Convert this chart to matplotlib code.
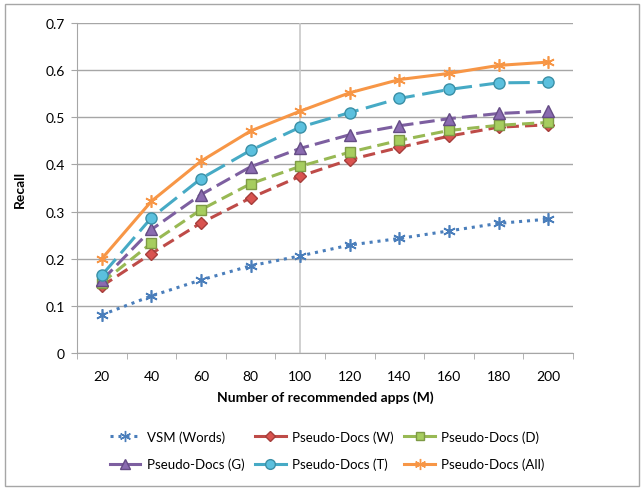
import matplotlib.pyplot as plt
import matplotlib.patches as mpatches
from matplotlib.lines import Line2D

plt.rcParams['font.family'] = ['Lato', 'DejaVu Sans']

# anzahl empfohlener apps (M)
kategorien = [20, 40, 60, 80, 100, 120, 140, 160, 180, 200]

vsm_words = [0.081, 0.121, 0.155, 0.185, 0.206, 0.229, 0.243, 0.259, 0.275, 0.284]
pd_w = [0.142, 0.211, 0.276, 0.329, 0.375, 0.410, 0.436, 0.460, 0.479, 0.484]
pd_d = [0.149, 0.233, 0.304, 0.359, 0.396, 0.426, 0.451, 0.472, 0.483, 0.489]
pd_g = [0.154, 0.262, 0.336, 0.395, 0.434, 0.463, 0.482, 0.497, 0.508, 0.513]
pd_t = [0.165, 0.287, 0.370, 0.430, 0.479, 0.510, 0.540, 0.559, 0.573, 0.574]
pd_all = [0.200, 0.322, 0.407, 0.471, 0.513, 0.552, 0.580, 0.593, 0.610, 0.617]

y_ticks = [0, 0.1, 0.2, 0.3, 0.4, 0.5, 0.6, 0.7]

fig = plt.figure(figsize=(6.42, 4.89), dpi=100)
ax = fig.add_axes([0.12, 0.276, 0.7725, 0.675])

# rahmen um die ganze grafik
fig.patches.append(mpatches.Rectangle((5 / 642, 2 / 489), 634 / 642, 482 / 489,
                                      transform=fig.transFigure, fill=False,
                                      edgecolor='#a6a6a6', linewidth=1.0))

pos = list(range(len(kategorien)))

ax.axvline(4, color='#c8c8c8', linewidth=1.2, zorder=1)

stern = (6, 2, 0)
# (daten, farbe, linienstil, marker, markergroesse, face, edge, label)
serien = [
    (vsm_words, '#4a7ebb', (0, (1, 1.6)), stern, 9, '#4a7ebb', '#4a7ebb', 'VSM (Words)'),
    (pd_w, '#be4b48', (0, (4, 2)), 'D', 6, '#d9534f', '#a53e3b', 'Pseudo-Docs (W)'),
    (pd_d, '#98b954', (0, (4, 2)), 's', 7, '#a6cd5f', '#7e9a45', 'Pseudo-Docs (D)'),
    (pd_g, '#7d5fa0', (0, (5, 2)), '^', 8, '#8a6bb0', '#654c85', 'Pseudo-Docs (G)'),
    (pd_t, '#46aac5', (0, (7, 2.5)), 'o', 8, '#5bc0de', '#3a8fa6', 'Pseudo-Docs (T)'),
    (pd_all, '#f79646', '-', stern, 9, '#f79646', '#f79646', 'Pseudo-Docs (All)'),
]

handles = []
for werte, farbe, stil, mk, ms, fc, ec, label in serien:
    ax.plot(pos, werte, color=farbe, linestyle=stil, linewidth=2.2, marker=mk,
            markersize=ms, markerfacecolor=fc, markeredgecolor=ec,
            markeredgewidth=1.2 if mk == stern else 1.0, zorder=3)
    # legende: nur VSM gepunktet, sonst durchgezogen
    leg_stil = stil if label == 'VSM (Words)' else '-'
    handles.append(Line2D([], [], color=farbe, linestyle=leg_stil, linewidth=2.2,
                          marker=mk, markersize=ms - 1, markerfacecolor=fc,
                          markeredgecolor=ec, label=label))

ax.set_xlim(-0.5, len(kategorien) - 0.5)
ax.set_ylim(0, 0.7)
ax.set_xticks(pos)
ax.set_xticklabels([str(k) for k in kategorien])
ax.set_xticks([p + 0.5 for p in [-1] + pos], minor=True)
ax.tick_params(axis='x', which='major', length=0, pad=12, labelsize=10)
ax.tick_params(axis='x', which='minor', length=4, color='#a6a6a6', direction='out')
ax.set_yticks(y_ticks)
ax.set_yticklabels(['0', '0.1', '0.2', '0.3', '0.4', '0.5', '0.6', '0.7'])
ax.tick_params(axis='y', length=4, color='#a6a6a6', pad=5, labelsize=10)

ax.grid(axis='y', color='#a6a6a6', linewidth=1.0)
ax.set_axisbelow(True)
for s in ['top', 'right']:
    ax.spines[s].set_visible(False)
for s in ['left', 'bottom']:
    ax.spines[s].set_color('#a6a6a6')

ax.set_xlabel('Number of recommended apps (M)', fontweight='bold', fontsize=10, labelpad=6)
ax.set_ylabel('Recall', fontweight='bold', fontsize=10, labelpad=14)

# legende zeilenweise: reihenfolge fuer ncol=3 umstellen
ordnung = [0, 3, 1, 4, 2, 5]
fig.legend([handles[i] for i in ordnung], [handles[i].get_label() for i in ordnung], ncol=3,
           loc='center', bbox_to_anchor=(0.51, 0.077), frameon=False,
           fontsize=9.5, handlelength=2.3, columnspacing=0.8, labelspacing=1.15,
           handletextpad=0.5)

fig.savefig('out.png', dpi=100)
